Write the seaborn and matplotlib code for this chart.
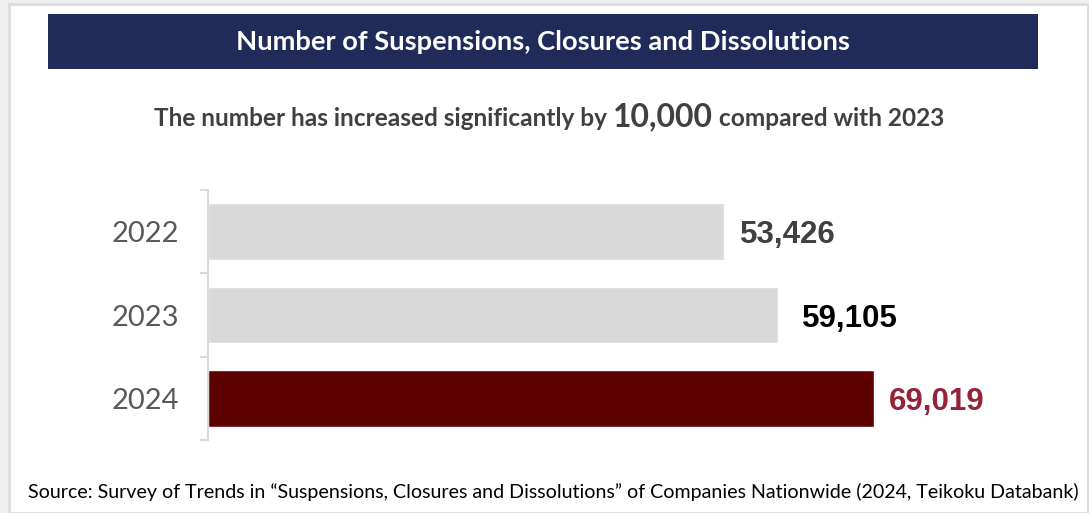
import matplotlib
matplotlib.use("Agg")
import matplotlib.pyplot as plt
from matplotlib.patches import Rectangle
from matplotlib.offsetbox import TextArea, HPacker, AnchoredOffsetbox
import seaborn as sns
import pandas as pd

# Data
years = ["2022", "2023", "2024"]
counts = [53426, 59105, 69019]
bar_colors = ["#D9D9D9", "#D9D9D9", "#5C0000"]
label_colors = ["#404040", "#000000", "#952339"]

title = "Number of Suspensions, Closures and Dissolutions"
subtitle_parts = ["The number has increased significantly by ", "10,000", " compared with 2023"]
source = ("Source: Survey of Trends in \u201cSuspensions, Closures and Dissolutions\u201d "
          "of Companies Nationwide (2024, Teikoku Databank)")

sns.set_theme(style="white")
plt.rcParams["font.family"] = ["Lato", "DejaVu Sans"]

W, H = 1089, 513
fig = plt.figure(figsize=(W / 100, H / 100), dpi=100)
fig.patch.set_facecolor("#F0F0F0")


def fx(px):
    return px / W


def fy(py):
    return 1 - py / H


# White card with light border
fig.add_artist(Rectangle((fx(9), 0), fx(1079), fy(9) + 0.01, transform=fig.transFigure,
                         facecolor="white", edgecolor="#DCDCDC", linewidth=2, zorder=0))

# Title banner
fig.add_artist(Rectangle((fx(48), fy(69)), fx(990), (69 - 14) / H, transform=fig.transFigure,
                         facecolor="#212B5A", edgecolor="none", zorder=1))
fig.text(fx(543), fy(42), title, color="white", fontsize=19.7, fontweight="bold",
         ha="center", va="center", zorder=2)

# Subtitle with emphasised figure
areas = [
    TextArea(subtitle_parts[0], textprops=dict(color="#404040", fontsize=17.6, fontweight="bold")),
    TextArea(subtitle_parts[1], textprops=dict(color="#404040", fontsize=23, fontweight="bold")),
    TextArea(subtitle_parts[2], textprops=dict(color="#404040", fontsize=17.6, fontweight="bold")),
]
pack = HPacker(children=areas, align="baseline", pad=0, sep=0)
anch = AnchoredOffsetbox(loc="center", child=pack, pad=0, frameon=False,
                         bbox_to_anchor=(fx(549), fy(117)), bbox_transform=fig.transFigure,
                         borderpad=0)
fig.add_artist(anch)

# Bar chart
ax = fig.add_axes([fx(208), fy(440), fx(1040 - 208), (440 - 190) / H])
ax.set_facecolor("none")
df = pd.DataFrame({"year": years, "count": counts})
sns.barplot(data=df, x="count", y="year", hue="year", palette=bar_colors,
            legend=False, width=0.68, orient="h", ax=ax, saturation=1)

px_per_unit = 69019 / 666.0
ax.set_xlim(0, (1040 - 208) * px_per_unit)
ax.set_ylim(2.5, -0.5)

label_pads = [12, 17, 11]
for i, (v, c) in enumerate(zip(counts, label_colors)):
    ax.annotate(f"{v:,}", xy=(v, i), xytext=(label_pads[i], 0), textcoords="offset points",
                ha="left", va="center_baseline", fontsize=22.5, fontweight="bold",
                color=c, family=["Liberation Sans", "DejaVu Sans"])

for s in ["top", "right", "bottom"]:
    ax.spines[s].set_visible(False)
ax.spines["left"].set_color("#D9D9D9")
ax.spines["left"].set_linewidth(1.5)
ax.xaxis.set_visible(False)
ax.set_xlabel("")
ax.set_ylabel("")
ax.set_yticks(range(len(years)))
ax.set_yticklabels(years)
ax.set_yticks([-0.5, 0.5, 1.5, 2.5], minor=True)
ax.tick_params(axis="y", which="major", length=0, pad=21, labelsize=21, labelcolor="#595959")
ax.tick_params(axis="y", which="minor", length=6, width=1.5, color="#D9D9D9", left=True)

# Source note
fig.text(fx(553), fy(492), source, color="#000000", fontsize=14.1, ha="center", va="center")

fig.savefig("out.png", dpi=100, facecolor=fig.get_facecolor())
